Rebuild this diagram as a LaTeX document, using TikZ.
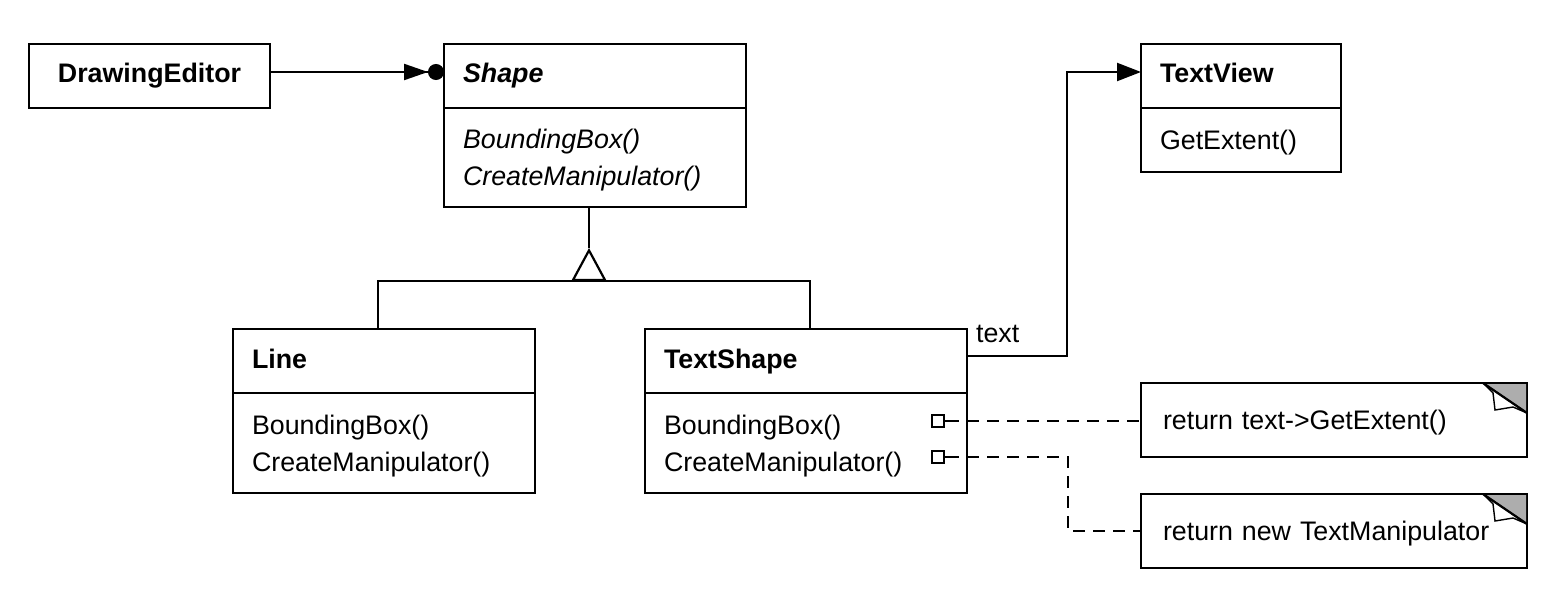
\documentclass[tikz,border=0pt]{standalone}
\usepackage{fontspec}
\setmainfont{Liberation Sans}
\usetikzlibrary{arrows.meta,positioning}

\definecolor{eargray}{gray}{0.68}
\newcommand\umlfont{\fontsize{13.4}{18.5}\selectfont}

\begin{document}
\begin{tikzpicture}[x=0.5pt, y=-0.5pt, font=\umlfont,
  box/.style={draw, line width=1.1pt, inner sep=0pt, outer sep=0pt},
  head/.style={box, anchor=north west, minimum height=32pt, text height=9.8pt, text depth=2.8pt, font=\umlfont\bfseries},
  cls/.style={head, text width=#1, inner xsep=9.5pt, align=left},
  ops/.style={box, text width=#1, inner xsep=9.5pt, align=left, text height=9.8pt, text depth=18.8pt},
  note/.style={box, anchor=north west, minimum height=37pt, text width=171pt, inner xsep=11pt, align=left, text depth=0pt},
  port/.style={draw, line width=0.9pt, minimum size=6pt, inner sep=0pt},
  conn/.style={line width=1.1pt},
  aggr/.style={conn, -{Triangle[length=12pt,width=8pt] Circle[length=8pt]}},
  nav/.style={conn, -{Triangle[length=12pt,width=9pt]}},
  gen/.style={conn, -{Triangle[open,length=16.5pt,width=17.5pt]}},
  dep/.style={conn, dash pattern=on 6pt off 4pt}]
  \useasboundingbox (0,0) rectangle (1556,604);

  % classes
  \node[head, minimum width=120.5pt] (ed) at (29,44) {DrawingEditor};
  \node[cls=132pt, font=\umlfont\bfseries\itshape] (sh) at (444,44) {Shape};
  \node[ops=132pt, minimum height=49.5pt, below=0pt of sh, font=\umlfont\itshape] (sho) {BoundingBox()\\CreateManipulator()};
  \node[cls=81pt] (tv) at (1141,44) {TextView};
  \node[ops=81pt, minimum height=32pt, text depth=0pt, below=0pt of tv] (tvo) {GetExtent()};
  \node[cls=132pt] (ln) at (233,329) {Line};
  \node[ops=132pt, minimum height=50pt, below=0pt of ln] (lno) {BoundingBox()\\CreateManipulator()};
  \node[cls=142pt] (ts) at (645,329) {TextShape};
  \node[ops=142pt, minimum height=50pt, below=0pt of ts] (tso) {BoundingBox()\\CreateManipulator()};

  % notes
  \node[note] (n1) at (1141,383) {return text->GetExtent()};
  \node[note] (n2) at (1141,494) {return new TextManipulator};
  \foreach \n in {n1,n2}{
    \begin{scope}[shift={(\n.north east)}]
      \fill[eargray] (-44,1) -- (-1,1) -- (-1,30) -- cycle;
      \draw[line width=0.7pt, fill=white] (-44,0) -- (-34,10) -- (-32,27) -- (-14,24) -- (0,30) -- cycle;
      \draw[conn] (-44,0) -- (0,30);
    \end{scope}
  }

  \node[port] (p1) at (938,421) {};
  \node[port] (p2) at (938,457) {};

  % connectors
  \draw[aggr] ([yshift=2pt]ed.east) -- ([yshift=2pt]sh.west);
  \coordinate (hub) at (589,281);
  \coordinate (apex) at (589,248);
  \draw[conn] (sho.south -| apex) -- (apex);
  \draw[gen] (hub) -- (apex);
  \draw[conn] ([xshift=-3pt]ln.north) |- (hub) -| ([xshift=2pt]ts.north);
  \draw[nav] ([yshift=2.5pt]ts.east) node[anchor=base west, inner sep=0pt, xshift=4pt, yshift=7pt] {text}
    -| ([xshift=-37pt,yshift=2pt]tv.west) -- ([yshift=2pt]tv.west);
  \draw[conn] (p1.east) -- ++(14,0);
  \draw[conn] (p2.east) -- ++(14,0);
  \draw[dep] (p1 -| ts.east) -- (p1 -| n1.west);
  \draw[dep] (p2 -| ts.east) -- ++(101,0) |- (n2.west);
\end{tikzpicture}
\end{document}
